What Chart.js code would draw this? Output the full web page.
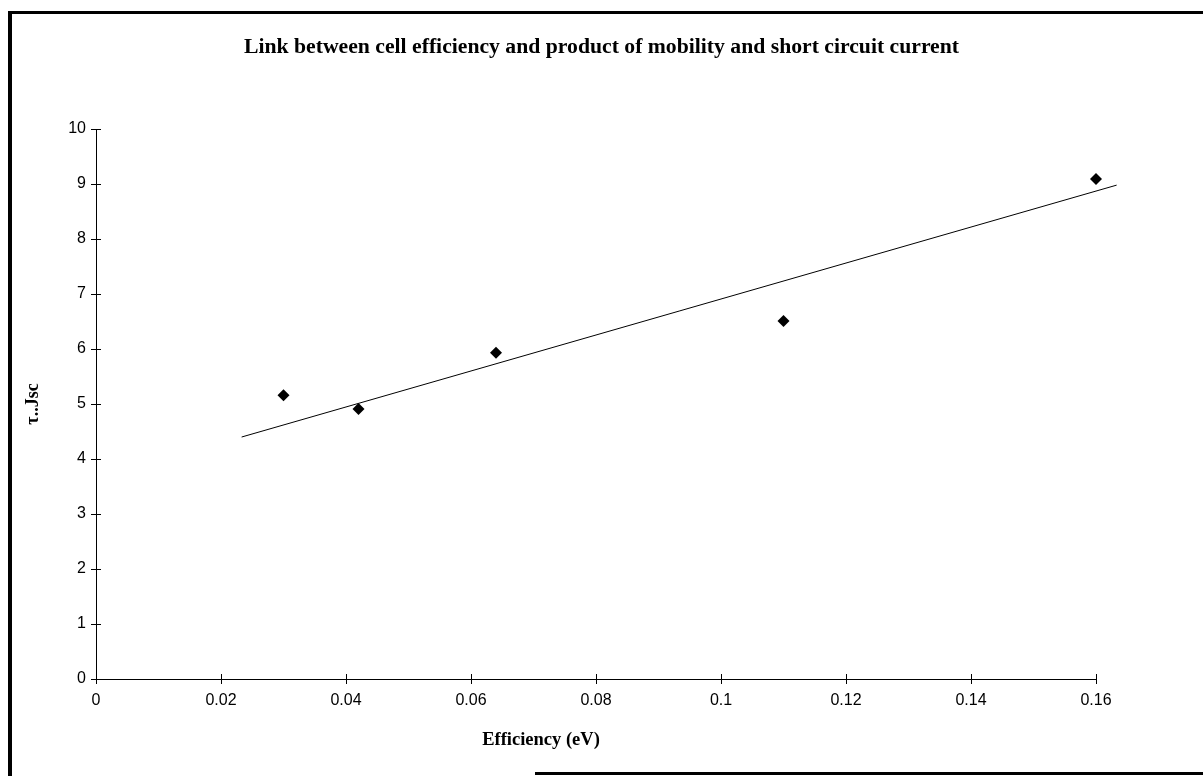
<!DOCTYPE html>
<html>
<head>
<meta charset="utf-8">
<script src="https://cdn.jsdelivr.net/npm/chart.js@4.4.1/dist/chart.umd.min.js"></script>
<style>
  html, body { margin: 0; padding: 0; background: #fff; }
  #contenedor { position: relative; width: 1203px; height: 776px; overflow: hidden; }
  #marco { position: absolute; left: 8px; top: 11px; width: 1300px; height: 800px;
           border-left: 4px solid #000; border-top: 3px solid #000; pointer-events: none; }
  #marcoInferior { position: absolute; left: 535px; top: 772px; width: 700px; height: 3px;
                   background: #000; pointer-events: none; }
</style>
</head>
<body>
<div id="contenedor">
  <canvas id="graficoEficiencia" width="1203" height="776"></canvas>
  <div id="marco"></div>
  <div id="marcoInferior"></div>
</div>
<script>
// ===================================== Datos ==================
var eficiencia = [0.03, 0.042, 0.064, 0.11, 0.16];
var tauJsc = [5.16, 4.91, 5.93, 6.51, 9.09];

// linea de tendencia (extremos)
var tendenciaX = [0.0233, 0.1633];
var tendenciaY = [4.40, 8.98];

var ticksX = [0, 0.02, 0.04, 0.06, 0.08, 0.1, 0.12, 0.14, 0.16];
var ticksY = [0, 1, 2, 3, 4, 5, 6, 7, 8, 9, 10];

var tituloGrafico = "Link between cell efficiency and product of mobility and short circuit current";
var tituloX = "Efficiency (eV)";
var tituloY = "τ..Jsc";

var fuenteSerif = "'Liberation Serif', 'Times New Roman', serif";
var fuenteSans = "'Liberation Sans', Arial, sans-serif";

// ===================================== Plugin: marcas cruzadas y titulo X ==================
var pluginEjes = {
  id: "pluginEjes",
  afterDraw(chart) {
    const ctx = chart.ctx;
    const x = chart.scales.x;
    const y = chart.scales.y;
    const y0 = y.getPixelForValue(0);
    const x0 = x.getPixelForValue(0);
    ctx.save();
    ctx.strokeStyle = "#000";
    ctx.lineWidth = 1;
    ctx.beginPath();
    ticksX.forEach(v => {
      const px = Math.round(x.getPixelForValue(v)) + 0.5;
      ctx.moveTo(px, y0 - 5);
      ctx.lineTo(px, y0 + 5);
    });
    ticksY.forEach(v => {
      const py = Math.round(y.getPixelForValue(v)) + 0.5;
      ctx.moveTo(x0 - 5, py);
      ctx.lineTo(x0 + 5, py);
    });
    ctx.stroke();

    ctx.fillStyle = "#000";
    ctx.font = "bold 18.5px " + fuenteSerif;
    ctx.textAlign = "center";
    ctx.textBaseline = "middle";
    ctx.fillText(tituloX, x.getPixelForValue(0.0712), y0 + 61);
    ctx.restore();
  }
};

// ===================================== Grafico ==================
new Chart(document.getElementById("graficoEficiencia"), {
  type: "scatter",
  data: {
    datasets: [
      {
        label: "τ.Jsc",
        data: eficiencia.map((e, i) => ({ x: e, y: tauJsc[i] })),
        pointStyle: "rectRot",
        pointRadius: 6,
        pointBackgroundColor: "#000",
        pointBorderColor: "#000",
        borderWidth: 0,
        clip: false
      },
      {
        label: "Tendencia",
        type: "line",
        data: tendenciaX.map((e, i) => ({ x: e, y: tendenciaY[i] })),
        borderColor: "#000",
        borderWidth: 1,
        pointRadius: 0,
        fill: false,
        clip: false
      }
    ]
  },
  options: {
    responsive: false,
    animation: false,
    layout: { padding: 0 },
    scales: {
      x: {
        type: "linear",
        min: 0,
        max: 0.16,
        afterBuildTicks: s => { s.ticks = ticksX.map(v => ({ value: v })); },
        afterFit: s => { s.height = 97; },
        grid: { display: false },
        border: { display: true, color: "#000", width: 1 },
        ticks: {
          color: "#000",
          padding: 4,
          maxRotation: 0,
          font: { family: fuenteSans, size: 16 },
          callback: v => String(v)
        }
      },
      y: {
        min: 0,
        max: 10,
        afterBuildTicks: s => { s.ticks = ticksY.map(v => ({ value: v })); },
        afterFit: s => { s.width = 96; },
        grid: { display: false },
        border: { display: true, color: "#000", width: 1 },
        ticks: {
          color: "#000",
          padding: 2,
          font: { family: fuenteSans, size: 16 }
        },
        title: {
          display: true,
          text: tituloY,
          color: "#000",
          padding: { top: 23, bottom: 0 },
          font: { family: fuenteSerif, size: 18, weight: "bold" }
        }
      },
      // eje vacio a la derecha solo para reservar el margen
      margenDerecho: {
        type: "linear",
        position: "right",
        display: true,
        afterFit: s => { s.width = 107; },
        grid: { display: false },
        border: { display: false },
        ticks: { display: false }
      }
    },
    plugins: {
      legend: { display: false },
      tooltip: { enabled: false },
      title: {
        display: true,
        text: tituloGrafico,
        color: "#000",
        padding: { top: 34, bottom: 69 },
        font: { family: fuenteSerif, size: 21.7, weight: "bold" }
      }
    }
  },
  plugins: [pluginEjes]
});
</script>
</body>
</html>
